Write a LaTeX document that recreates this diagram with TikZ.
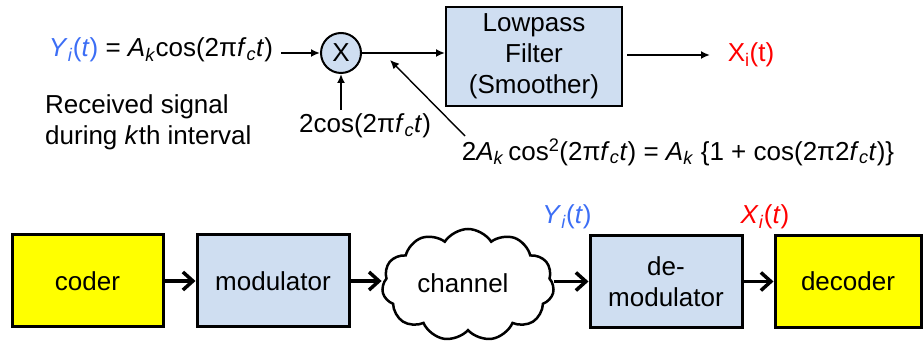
\documentclass[tikz,border=0pt]{standalone}
\usepackage{fontspec}
\setmainfont{Liberation Sans}
\usetikzlibrary{arrows.meta,shapes.symbols}
\definecolor{ybl}{RGB}{60,110,245}
\definecolor{lblue}{RGB}{207,222,241}
\definecolor{pyel}{RGB}{255,255,0}
\tikzset{
  every node/.style={font=\fontsize{26}{31}\selectfont},
  topbox/.style={draw, line width=2pt, fill=lblue, minimum width=176pt, minimum height=99pt, align=center, inner sep=0pt},
  topar/.style={line width=2pt, -{Latex[length=9pt,width=8pt]}},
  thinar/.style={line width=1.4pt, -{Latex[length=9pt,width=8pt]}},
  botbox/.style={draw, line width=3pt, minimum height=92pt, align=center, inner sep=0pt},
  botar/.style={line width=3.5pt, -{Straight Barb[length=10pt,width=18pt,line width=3.5pt]}},
  lbl/.style={inner sep=0pt}
}
\begin{document}
\begin{tikzpicture}[x=1pt,y=-1pt]
\useasboundingbox (0,0) rectangle (923,344);
% top row
\node[lbl] (ysig) at (161,50) {\textcolor{ybl}{\textit{Y}\textsubscript{\textit{i}}(\textit{t})} = \textit{A}\textsubscript{\textit{k}}cos(2π\textit{f}\textsubscript{\textit{c}}\textit{t})};
\node[draw, circle, line width=2pt, fill=lblue, minimum size=40pt, inner sep=0pt] (mul) at (341,53) {X};
\node[topbox] (lpf) at (534,56.5) {Lowpass\\Filter\\(Smoother)};
\node[lbl, text=red] (xout) at (751,55) {X\textsubscript{i}(t)};
\node[lbl, align=left, anchor=west] (recv) at (45,122) {Received signal\\during \textit{k}th interval};
\node[lbl] (osc) at (365,126) {2cos(2π\textit{f}\textsubscript{\textit{c}}\textit{t})};
\node[lbl] (prod) at (678,152) {2\textit{A}\textsubscript{\textit{k}}\,cos\textsuperscript{2}(2π\textit{f}\textsubscript{\textit{c}}\textit{t}) = \textit{A}\textsubscript{\textit{k}} \{1 + cos(2π2\textit{f}\textsubscript{\textit{c}}\textit{t})\}};
\coordinate (a1) at (281,53);
\coordinate (a2) at (341,110);
\coordinate (a3) at (627,55);
\coordinate (a4) at (710,55);
\coordinate (d1) at (465,136);
\coordinate (d2) at (390,60);
\draw[topar] (a1) -- (mul.west);
\draw[topar] (mul.east) -- (mul.east -| lpf.west);
\draw[topar] (a2) -- (mul.south);
\draw[topar] (a3) -- (a4);
\draw[thinar] (d1) -- (d2);
% bottom row
\node[botbox, fill=pyel, minimum width=151pt] (coder) at (87.5,281) {coder};
\node[botbox, fill=lblue, minimum width=152pt] (mod) at (273,281) {modulator};
\node[cloud, draw, line width=2.5pt, cloud puffs=11, cloud puff arc=115, aspect=1.5, minimum width=172pt, minimum height=112pt, inner sep=0pt] (chan) at (468,285) {};
\node[lbl] (chantxt) at (463,283) {channel};
\node[botbox, fill=lblue, minimum width=152pt] (demod) at (666,281.5) {de-\\modulator};
\node[botbox, fill=pyel, minimum width=146pt] (dec) at (848,281.5) {decoder};
\node[lbl] (ylab) at (567,217) {\textcolor{ybl}{\textit{Y}\textsubscript{\textit{i}}(\textit{t})}};
\node[lbl, text=red] (xlab) at (765,217) {\textit{X}\textsubscript{\textit{i}}(\textit{t})};
\draw[botar] (coder.east) -- (mod.west);
\draw[botar] (mod.east) -- (mod.east -| chan.west);
\draw[botar] (chan.east |- demod.west) -- (demod.west);
\draw[botar] (demod.east) -- (dec.west);
\end{tikzpicture}
\end{document}
